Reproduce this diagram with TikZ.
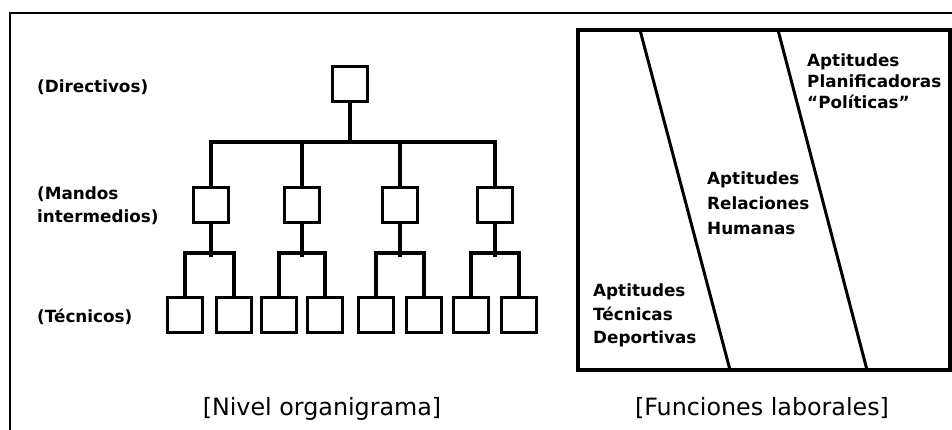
\documentclass[tikz,border=0pt]{standalone}
\usepackage{fontspec}
\setmainfont{DejaVu Sans}
\begin{document}
\begin{tikzpicture}[x=1pt,y=-1pt,
  unit/.style={draw,line width=3.5pt,minimum size=35pt,inner sep=0pt},
  link/.style={line width=3.5pt,line join=miter},
  level/.style={anchor=north west,font=\bfseries\fontsize{16.8}{23}\selectfont,align=left,inner sep=0pt},
  skill/.style={anchor=north west,align=left,inner sep=0pt},
  caption/.style={anchor=base,font=\fontsize{23.8}{28}\selectfont,inner sep=0pt}]
\useasboundingbox (0,0) rectangle (952,430);
% open outer frame
\draw[line width=2.5pt] (10,430) -- (10,13) -- (952,13);

% ---- organisation chart ----
\node[unit] (d) at (350,84) {};
\foreach \i/\x in {1/211,2/302,3/400,4/495}
  \node[unit] (m\i) at (\x,205) {};
\foreach \i/\x in {1/185,2/234,3/279,4/325,5/376,6/424,7/471,8/519}
  \node[unit] (t\i) at (\x,315) {};
\coordinate (bus) at (350,142);
\draw[link] (d.south) -- (bus);
\draw[link] (m1.north) -- (m1.north |- bus) -- (m4.north |- bus) -- (m4.north);
\draw[link] (m2.north) -- (m2.north |- bus);
\draw[link] (m3.north) -- (m3.north |- bus);
\foreach \m/\a/\b in {1/1/2,2/3/4,3/5/6,4/7/8}{
  \draw[link] (m\m.south) -- ++(0,33);
  \draw[link] (t\a.north) -- ++(0,-43) -| (t\b.north);
}

\node[level] (ld) at (37,80) {(Directivos)};
\node[level] (lm) at (37,187) {(Mandos\\intermedios)};
\node[level] (lt) at (37,309) {(Técnicos)};
\node[caption] (c1) at (322,415) {[Nivel organigrama]};

% ---- work functions panel ----
\draw[line width=4pt] (578,30) rectangle (950,370);
\coordinate (a1) at (640,30); \coordinate (b1) at (730,370);
\coordinate (a2) at (778,30); \coordinate (b2) at (867,370);
\draw[line width=3pt] (a1) -- (b1);
\draw[line width=3pt] (a2) -- (b2);

\node[skill,font=\bfseries\fontsize{16.8}{21}\selectfont] (s3) at (807,54) {Aptitudes\\Planificadoras\\“Políticas”};
\node[skill,font=\bfseries\fontsize{16.8}{25}\selectfont] (s2) at (707,172) {Aptitudes\\Relaciones\\Humanas};
\node[skill,font=\bfseries\fontsize{16.8}{23.5}\selectfont] (s1) at (593,284) {Aptitudes\\Técnicas\\Deportivas};
\node[caption] (c2) at (762,415) {[Funciones laborales]};
\end{tikzpicture}
\end{document}
